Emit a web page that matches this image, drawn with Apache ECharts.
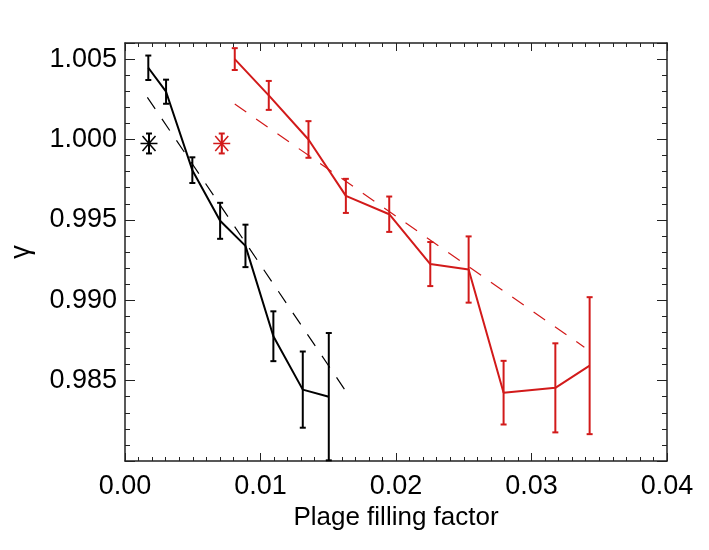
<!DOCTYPE html>
<html>
<head>
<meta charset="utf-8">
<script src="https://cdn.jsdelivr.net/npm/echarts@6/dist/echarts.min.js"></script>
<style>
  html, body { margin: 0; padding: 0; background: #fff; }
  #chart { width: 709px; height: 550px; }
</style>
</head>
<body>
<div id="chart"></div>
<script>
// data
const blackX = [0.00172, 0.00303, 0.00497, 0.00702, 0.00889, 0.01095, 0.01312, 0.01504];
const blackY = [1.00446, 1.00297, 0.99809, 0.99494, 0.99338, 0.98776, 0.98444, 0.98400];
const blackErr = [0.00076, 0.00075, 0.0008, 0.00112, 0.00132, 0.00155, 0.00237, 0.00396];

const redX = [0.0081, 0.01061, 0.01354, 0.0163, 0.0195, 0.02253, 0.02536, 0.02794, 0.03176, 0.03429];
const redY = [1.005, 1.00274, 1.0000, 0.99649, 0.99535, 0.99225, 0.99191, 0.98425, 0.98455, 0.98593];
const redErr = [0.00068, 0.0009, 0.00114, 0.00106, 0.0011, 0.00137, 0.00206, 0.00198, 0.00277, 0.00426];

// linear fits (end points)
const blackFitX = [0.00165, 0.01657];
const blackFitY = [1.00262, 0.98400];
const redFitX = [0.0081, 0.0339];
const redFitY = [1.0022, 0.98708];

// single reference points (asterisks)
const blackStar = [0.00177, 0.99975, 0.00062];
const redStar = [0.00714, 0.99975, 0.00062];

const xTicks = [0.00, 0.01, 0.02, 0.03, 0.04];
const yMin = 0.980, yMax = 1.006;

const BLACK = "#000000";
const RED = "#d21a1a";
const FONT = "Liberation Sans, Arial, sans-serif";

const zip = (xs, ys) => xs.map((x, i) => [x, ys[i]]);

// vertical error bars with small caps; clipped to the frame
const errorBars = (xs, ys, errs, color) => ({
  type: "custom",
  data: xs.map((x, i) => [x, ys[i], errs[i]]),
  z: 3,
  renderItem: (params, api) => {
    const x = api.value(0), y = api.value(1), e = api.value(2);
    const hi = Math.min(y + e, yMax), lo = Math.max(y - e, yMin);
    const top = api.coord([x, hi]);
    const bot = api.coord([x, lo]);
    const style = { stroke: color, lineWidth: 2 };
    const children = [
      { type: "line", shape: { x1: top[0], y1: top[1], x2: bot[0], y2: bot[1] }, style }
    ];
    if (y + e <= yMax) children.push({ type: "line", shape: { x1: top[0] - 3, y1: top[1], x2: top[0] + 3, y2: top[1] }, style });
    if (y - e >= yMin) children.push({ type: "line", shape: { x1: bot[0] - 3, y1: bot[1], x2: bot[0] + 3, y2: bot[1] }, style });
    return { type: "group", children };
  }
});

// asterisk marker
const star = (pt, color) => ({
  type: "custom",
  data: [pt],
  z: 3,
  renderItem: (params, api) => {
    const c = api.coord([api.value(0), api.value(1)]);
    const style = { stroke: color, lineWidth: 1.5 };
    const seg = (dx, dy) => ({ type: "line", shape: { x1: c[0] - dx, y1: c[1] - dy, x2: c[0] + dx, y2: c[1] + dy }, style });
    return { type: "group", children: [seg(8.5, 0), seg(6.5, 7.5), seg(6.5, -7.5), seg(0, 8)] };
  }
});

const fitLine = (xs, ys, color) => ({
  type: "line",
  data: zip(xs, ys),
  symbol: "none",
  lineStyle: { color, width: 1.2, type: [14, 12] },
  z: 2
});

const dataLine = (xs, ys, color) => ({
  type: "line",
  data: zip(xs, ys),
  symbol: "none",
  lineStyle: { color, width: 2 },
  z: 2
});

const frameLine = { show: true, onZero: false, lineStyle: { color: "#222", width: 1.5 } };

const xBase = {
  type: "value",
  min: xTicks[0],
  max: xTicks[xTicks.length - 1],
  interval: 0.01,
  axisLine: frameLine,
  axisTick: { show: true, inside: true, length: 8, lineStyle: { color: "#222" } },
  minorTick: { show: true, splitNumber: 10, length: 4, lineStyle: { color: "#222" } },
  splitLine: { show: false }
};

const yBase = {
  type: "value",
  min: yMin,
  max: yMax,
  interval: 0.005,
  axisLine: frameLine,
  axisTick: { show: true, inside: true, length: 10, lineStyle: { color: "#222" } },
  minorTick: { show: true, splitNumber: 5, length: 5, lineStyle: { color: "#222" } },
  splitLine: { show: false }
};

const chart = echarts.init(document.getElementById("chart"), null, { renderer: "canvas" });

chart.setOption({
  animation: false,
  backgroundColor: "#fff",
  grid: { left: 125, right: 42, top: 43, bottom: 89 },
  xAxis: [
    {
      ...xBase,
      position: "bottom",
      name: "Plage filling factor",
      nameLocation: "middle",
      nameGap: 40,
      nameTextStyle: { fontSize: 26, color: BLACK, fontFamily: FONT },
      axisLabel: {
        fontSize: 27, color: BLACK, fontFamily: FONT, margin: 12,
        formatter: (v) => v.toFixed(2)
      }
    },
    { ...xBase, position: "top", axisLabel: { show: false } }
  ],
  yAxis: [
    {
      ...yBase,
      position: "left",
      name: "γ",
      nameLocation: "middle",
      nameGap: 90,
      nameTextStyle: { fontSize: 27, color: BLACK, fontFamily: FONT },
      axisLabel: {
        fontSize: 27, color: BLACK, fontFamily: FONT, margin: 8,
        showMinLabel: false, showMaxLabel: false,
        formatter: (v) => v.toFixed(3)
      }
    },
    { ...yBase, position: "right", axisLabel: { show: false } }
  ],
  series: [
    fitLine(blackFitX, blackFitY, BLACK),
    fitLine(redFitX, redFitY, RED),
    dataLine(blackX, blackY, BLACK),
    dataLine(redX, redY, RED),
    errorBars(blackX, blackY, blackErr, BLACK),
    errorBars(redX, redY, redErr, RED),
    errorBars([blackStar[0]], [blackStar[1]], [blackStar[2]], BLACK),
    errorBars([redStar[0]], [redStar[1]], [redStar[2]], RED),
    star(blackStar, BLACK),
    star(redStar, RED)
  ]
});
</script>
</body>
</html>
